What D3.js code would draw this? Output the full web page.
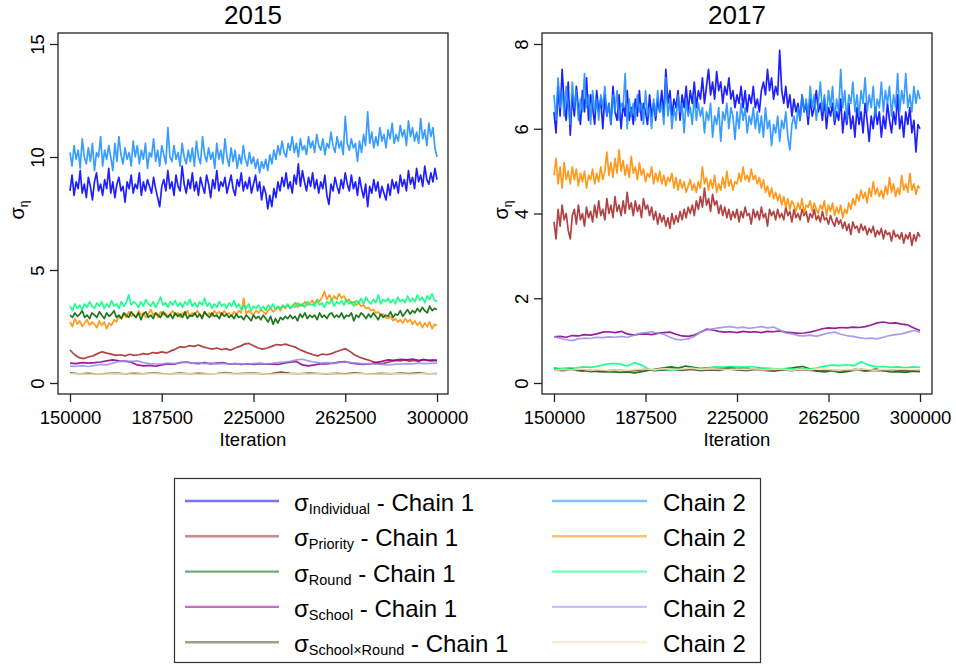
<!DOCTYPE html>
<html>
<head>
<meta charset="utf-8">
<script src="https://cdn.jsdelivr.net/npm/d3@7"></script>
<style>
  body { margin: 0; background: #fff; }
  svg { display: block; }
  text { font-family: "Liberation Sans", Arial, Helvetica, sans-serif; fill: #000; }
</style>
</head>
<body>
<svg id="chart" width="956" height="666"></svg>
<script>
// ---- Iterations kept after burn-in (thinned draws spread evenly over this range)
const ITER_FIRST = 150000;
const ITER_LAST = 300000;
const xTickValues = [150000, 187500, 225000, 262500, 300000];
const yTicks2015 = [0, 5, 10, 15];
const yTicks2017 = [0, 2, 4, 6, 8];
const panelTitles = ["2015", "2017"];

// ---- Variance components and chain colours
const paramNames = ["Individual", "Priority", "Round", "School", "School×Round"];
const chain1Colors = ["#0000ff", "#a52a2a", "#006400", "#8b008b", "#5a4a2c"];
const chain2Colors = ["#1e90ff", "#ff8c00", "#00ff7f", "#9b8fe8", "#f5deb3"];

// ---- 2015 draws
const individual2015c1 = [
  8.5, 9.2, 8.3, 8.9, 8.6, 9.4, 8.4, 8.8, 8.2, 9.1,
  8.7, 8.1, 8.9, 9.3, 8.5, 8.8, 8.3, 9.0, 8.6, 9.5,
  8.4, 8.9, 8.2, 8.8, 9.1, 8.5, 8.7, 8.0, 8.9, 8.6,
  9.2, 8.4, 8.8, 8.6, 9.3, 8.3, 8.9, 8.5, 9.0, 8.7,
  8.4, 9.1, 8.6, 8.2, 7.8, 8.7, 9.0, 8.5, 9.4, 8.6,
  8.9, 8.3, 9.2, 8.7, 8.5, 9.6, 8.8, 8.4, 9.0, 8.6,
  9.3, 8.5, 8.9, 8.3, 9.1, 8.7, 8.4, 9.2, 8.8, 8.2,
  9.0, 8.6, 9.4, 8.5, 8.9, 8.7, 9.1, 8.4, 8.8, 9.2,
  8.6, 8.3, 9.0, 8.7, 9.3, 8.5, 8.9, 8.6, 9.1, 8.4,
  8.8, 9.2, 8.5, 8.9, 8.1, 8.7, 8.4, 7.7, 8.3, 7.8,
  8.6, 8.2, 8.9, 8.5, 9.1, 8.7, 9.3, 8.6, 8.9, 8.4,
  9.2, 8.8, 9.7, 8.7, 9.4, 8.9, 8.5, 9.1, 8.7, 9.3,
  8.6, 9.0, 8.4, 8.9, 8.6, 9.2, 8.3, 7.9, 8.8, 8.5,
  9.1, 8.7, 8.4, 9.0, 8.6, 9.3, 8.8, 8.5, 9.2, 8.6,
  8.9, 8.3, 9.1, 8.6, 8.2, 8.8, 7.8, 8.7, 8.4, 9.0,
  8.5, 8.9, 8.2, 8.7, 8.4, 8.1, 8.8, 8.3, 9.0, 8.6,
  8.9, 8.4, 9.2, 8.7, 9.0, 8.5, 9.4, 8.8, 9.1, 8.6,
  9.5, 8.9, 9.2, 8.7, 9.6, 9.0, 8.8, 9.3, 8.9, 9.5,
  9.0
];
const individual2015c2 = [
  10.2, 9.6, 10.5, 9.9, 10.3, 9.5, 10.8, 10.0, 9.7, 10.4,
  9.8, 10.6, 9.4, 10.2, 10.0, 10.9, 9.6, 10.3, 9.9, 10.5,
  10.0, 9.4, 10.6, 9.8, 10.9, 10.1, 9.7, 10.4, 9.9, 10.2,
  9.6, 10.7, 10.0, 10.5, 9.7, 10.3, 9.9, 10.6, 9.5, 10.2,
  10.0, 10.8, 9.8, 10.3, 9.6, 10.5, 10.1, 9.7, 11.3, 10.0,
  9.8, 10.5, 9.9, 10.2, 9.6, 10.6, 10.0, 9.7, 10.3, 9.8,
  10.4, 9.6, 10.7, 10.0, 9.7, 10.9, 10.1, 9.8, 10.4, 9.9,
  10.2, 9.5, 10.6, 9.9, 10.3, 9.7, 10.8, 10.0, 9.6, 10.4,
  9.8, 10.3, 9.5, 10.1, 9.7, 10.5, 9.9, 9.6, 10.2, 9.7,
  10.0, 9.5, 9.9, 9.3, 9.8, 9.5, 9.9, 9.4, 10.1, 9.7,
  10.3, 9.9, 10.5, 10.1, 10.7, 10.2, 10.0, 10.6, 10.3, 10.9,
  10.2, 10.6, 10.0, 10.8, 10.3, 10.5, 10.1, 10.9, 10.4, 10.7,
  10.2, 11.0, 10.5, 10.3, 10.8, 10.1, 10.6, 10.4, 11.1, 10.5,
  10.2, 10.9, 10.4, 10.7, 10.1, 11.8, 10.6, 10.3, 10.8, 10.4,
  10.6, 9.8, 10.7, 10.2, 11.0, 10.5, 12.0, 10.6, 11.1, 10.4,
  10.9, 10.5, 11.3, 10.7, 11.0, 10.4, 11.2, 10.8, 11.5, 10.6,
  11.0, 10.7, 11.4, 10.9, 11.2, 10.5, 11.6, 10.9, 11.3, 10.7,
  11.1, 10.6, 11.7, 10.8, 11.2, 10.5, 11.5, 10.9, 11.3, 10.4,
  10.0
];
const priority2015c1 = [
  1.46, 1.25, 1.12, 1.08, 1.15, 1.20, 1.30, 1.38, 1.32, 1.28,
  1.22, 1.25, 1.20, 1.27, 1.22, 1.25, 1.30, 1.27, 1.35, 1.32,
  1.38, 1.33, 1.42, 1.50, 1.60, 1.58, 1.65, 1.62, 1.68, 1.60,
  1.55, 1.50, 1.55, 1.48, 1.52, 1.45, 1.55, 1.62, 1.72, 1.75,
  1.65, 1.55, 1.50, 1.55, 1.62, 1.70, 1.68, 1.72, 1.65, 1.60,
  1.48, 1.40, 1.32, 1.25, 1.20, 1.28, 1.25, 1.30, 1.38, 1.45,
  1.52, 1.40, 1.25, 1.15, 1.08, 1.02, 0.95, 0.88, 0.85, 0.90,
  0.95, 1.00, 0.98, 1.02, 0.97, 1.00, 0.95, 1.05, 1.00, 1.03, 1.00
];
const priority2015c2 = [
  2.7, 2.5, 2.85, 2.6, 2.75, 2.5, 2.65, 2.8, 2.55, 2.7,
  2.6, 2.45, 2.75, 2.55, 2.7, 2.4, 2.65, 2.55, 2.8, 2.7,
  2.95, 2.85, 3.05, 2.9, 3.15, 2.95, 3.05, 2.9, 3.2, 3.0,
  3.1, 2.9, 3.05, 3.25, 3.0, 3.1, 2.9, 3.15, 3.0, 3.1,
  2.95, 3.05, 3.2, 3.0, 3.1, 2.9, 3.1, 3.0, 3.2, 2.95,
  3.1, 3.0, 3.2, 3.05, 2.95, 3.15, 3.0, 3.1, 2.95, 3.2,
  3.05, 3.15, 3.0, 3.2, 3.05, 3.1, 2.95, 3.15, 3.05, 3.2,
  3.1, 3.75, 3.05, 3.2, 3.1, 3.0, 3.2, 3.1, 3.25, 3.15,
  3.05, 3.2, 3.3, 3.15, 3.25, 3.35, 3.2, 3.4, 3.3, 3.45,
  3.3, 3.4, 3.55, 3.35, 3.5, 3.4, 3.6, 3.45, 3.55, 3.65,
  3.5, 3.7, 3.6, 3.8, 4.05, 3.7, 3.9, 3.65, 3.85, 3.7,
  3.95, 3.75, 3.85, 3.6, 3.7, 3.5, 3.6, 3.45, 3.55, 3.4,
  3.45, 3.3, 3.35, 3.2, 3.25, 3.1, 3.15, 3.0, 3.05, 2.9,
  2.85, 2.95, 2.75, 2.85, 2.7, 2.8, 2.65, 2.85, 2.7, 2.8,
  2.6, 2.75, 2.55, 2.7, 2.45, 2.65, 2.5, 2.7, 2.4, 2.6,
  2.55
];
const round2015c1 = [
  3.0, 2.9, 3.1, 2.95, 3.05, 3.2, 2.9, 3.0, 2.85, 3.1,
  3.0, 2.9, 3.15, 3.0, 2.85, 3.1, 2.95, 3.05, 3.2, 2.9,
  3.0, 2.85, 3.1, 3.0, 2.9, 3.15, 3.0, 2.9, 3.1, 2.8,
  3.05, 3.15, 2.9, 3.0, 2.85, 3.1, 3.0, 2.9, 3.15, 3.0,
  2.9, 3.05, 2.85, 3.1, 2.95, 3.05, 2.9, 3.15, 2.85, 3.0,
  2.95, 3.1, 2.9, 3.05, 2.85, 3.15, 3.0, 2.9, 3.1, 2.95,
  3.0, 2.85, 3.1, 2.95, 3.05, 2.9, 3.0, 2.85, 3.05, 2.9,
  2.95, 2.8, 3.0, 2.9, 2.75, 3.0, 2.85, 2.95, 2.8, 3.0,
  2.85, 2.7, 2.95, 2.6, 2.85, 2.65, 2.9, 2.8, 2.95, 2.85,
  3.0, 2.85, 2.95, 2.75, 3.05, 2.9, 3.1, 2.85, 3.0, 2.9,
  3.0, 2.8, 3.1, 2.9, 3.0, 2.85, 3.05, 3.1, 2.9, 3.0,
  2.9, 3.1, 2.85, 3.0, 2.95, 3.1, 2.75, 3.0, 2.9, 3.1,
  3.0, 2.85, 3.05, 2.9, 3.1, 2.95, 2.8, 3.05, 2.9, 3.0,
  2.95, 3.15, 2.9, 3.05, 3.0, 3.2, 2.95, 3.1, 3.25, 3.05,
  3.2, 3.1, 3.3, 3.15, 3.35, 3.2, 3.1, 3.4, 3.2, 3.3,
  3.25
];
const round2015c2 = [
  3.4, 3.2, 3.5, 3.3, 3.45, 3.25, 3.5, 3.35, 3.6, 3.4,
  3.3, 3.55, 3.4, 3.6, 3.3, 3.5, 3.35, 3.65, 3.4, 3.5,
  3.3, 3.6, 3.4, 3.55, 3.9, 3.45, 3.6, 3.5, 3.35, 3.6,
  3.4, 3.7, 3.5, 3.4, 3.6, 3.35, 3.55, 3.8, 3.45, 3.55,
  3.35, 3.6, 3.45, 3.65, 3.4, 3.55, 3.35, 3.6, 3.45, 3.7,
  3.4, 3.55, 3.35, 3.6, 3.45, 3.75, 3.4, 3.55, 3.3, 3.5,
  3.35, 3.6, 3.4, 3.5, 3.3, 3.55, 3.4, 3.65, 3.35, 3.5,
  3.25, 3.45, 3.3, 3.5, 3.2, 3.4, 3.3, 3.45, 3.25, 3.4,
  3.2, 3.45, 3.3, 3.5, 3.25, 3.4, 3.3, 3.45, 3.35, 3.5,
  3.3, 3.45, 3.35, 3.55, 3.4, 3.5, 3.35, 3.6, 3.45, 3.5,
  3.4, 3.65, 3.45, 3.55, 3.35, 3.6, 3.5, 3.7, 3.4, 3.6,
  3.5, 3.65, 3.45, 3.7, 3.5, 3.6, 3.4, 3.65, 3.55, 3.75,
  3.5, 3.8, 3.6, 3.5, 3.7, 3.55, 3.9, 3.5, 3.7, 3.6,
  3.75, 3.55, 3.7, 3.5, 3.8, 3.6, 3.7, 3.55, 3.85, 3.6,
  3.75, 3.6, 3.9, 3.65, 3.8, 3.55, 3.85, 3.7, 3.95, 3.65,
  3.6
];
const school2015c1 = [
  0.88, 0.86, 0.90, 0.88, 0.90, 0.93, 0.98, 1.02, 0.98, 0.97,
  0.92, 0.80, 0.76, 0.78, 0.74, 0.80, 0.85, 0.83, 0.90, 0.93,
  0.88, 0.86, 0.90, 0.85, 0.88, 0.90, 0.84, 0.86, 0.82, 0.85,
  0.82, 0.86, 0.83, 0.85, 0.82, 0.88, 0.92, 0.95, 0.80, 0.76,
  0.80, 0.86, 0.84, 0.88, 0.92, 0.95, 0.88, 0.85, 0.82, 0.84,
  0.90, 0.96, 1.02, 1.00, 1.05, 1.02, 1.06, 1.00, 1.03, 0.98, 1.00
];
const school2015c2 = [
  0.75, 0.74, 0.77, 0.73, 0.78, 0.82, 0.80, 0.88, 0.95, 0.97,
  0.96, 0.98, 0.90, 0.86, 0.84, 0.85, 0.88, 0.86, 0.90, 0.92,
  0.88, 0.90, 0.86, 0.88, 0.85, 0.87, 0.84, 0.86, 0.85, 0.83,
  0.86, 0.88, 0.85, 0.87, 0.90, 0.92, 0.96, 1.02, 1.05, 0.98,
  0.92, 0.88, 0.90, 0.87, 0.90, 0.93, 0.90, 0.88, 0.85, 0.86,
  0.83, 0.82, 0.80, 0.82, 0.84, 0.86, 0.85, 0.88, 0.86, 0.87, 0.88
];
const schoolRound2015c1 = [
  0.45, 0.41, 0.43, 0.39, 0.42, 0.44, 0.40, 0.43, 0.41, 0.45,
  0.42, 0.40, 0.44, 0.41, 0.43, 0.40, 0.42, 0.46, 0.41, 0.43,
  0.44, 0.40, 0.42, 0.48, 0.43, 0.41, 0.44, 0.42, 0.40, 0.43,
  0.41, 0.45, 0.42, 0.40, 0.43, 0.41, 0.44, 0.42, 0.45, 0.41, 0.42
];
const schoolRound2015c2 = [
  0.40, 0.42, 0.38, 0.41, 0.39, 0.42, 0.40, 0.38, 0.41, 0.43,
  0.39, 0.41, 0.40, 0.42, 0.38, 0.41, 0.40, 0.43, 0.39, 0.41,
  0.42, 0.40, 0.38, 0.41, 0.40, 0.42, 0.39, 0.41, 0.43, 0.40,
  0.38, 0.41, 0.42, 0.39, 0.40, 0.42, 0.41, 0.38, 0.40, 0.42, 0.39
];

// ---- 2017 draws
const individual2017c1 = [
  6.4, 5.9, 7.0, 6.3, 7.4, 6.6, 6.2, 7.1, 5.85, 6.8,
  6.3, 7.0, 6.5, 6.1, 6.9, 6.4, 7.2, 6.2, 6.8, 6.5,
  6.1, 6.9, 6.4, 6.7, 6.0, 6.8, 6.3, 6.6, 6.1, 7.0,
  6.4, 6.2, 6.8, 6.0, 6.6, 6.3, 6.9, 6.2, 6.5, 6.1,
  6.7, 6.3, 6.9, 6.2, 6.6, 6.4, 6.1, 6.8, 6.3, 6.6,
  6.2, 6.7, 6.4, 6.9, 6.3, 7.4, 6.6, 6.9, 6.3, 6.7,
  6.5, 6.9, 6.2, 6.8, 6.5, 7.0, 6.4, 6.9, 6.6, 7.1,
  6.5, 6.9, 6.7, 7.2, 6.6, 7.0, 7.4, 6.8, 7.1, 6.7,
  7.35, 6.9, 7.1, 6.6, 7.0, 6.8, 7.2, 6.7, 6.9, 6.5,
  6.8, 6.6, 7.0, 6.5, 6.9, 6.4, 6.8, 6.6, 7.0, 6.5,
  6.7, 6.4, 6.9, 7.1, 6.8, 7.4, 6.9, 7.2, 6.7, 7.0,
  6.8, 7.85, 6.9, 6.6, 7.0, 6.5, 6.8, 6.3, 6.7, 6.4,
  6.6, 6.2, 6.8, 6.4, 6.6, 6.1, 6.7, 6.3, 6.5, 6.9,
  6.4, 6.6, 6.2, 6.7, 6.0, 6.5, 6.3, 6.6, 6.1, 6.4,
  6.2, 6.7, 5.9, 6.4, 6.1, 6.6, 6.0, 6.3, 5.8, 6.5,
  6.1, 6.4, 5.9, 6.6, 6.2, 5.7, 6.3, 6.0, 6.5, 6.1,
  6.4, 5.8, 6.3, 6.0, 6.6, 6.2, 5.9, 6.4, 6.1, 6.8,
  6.0, 6.3, 5.8, 6.4, 6.1, 6.5, 5.9, 6.2, 5.45, 6.1,
  6.0
];
const individual2017c2 = [
  6.8, 6.2, 7.2, 6.5, 6.9, 6.3, 7.0, 6.6, 6.1, 7.1,
  6.5, 6.9, 6.2, 6.7, 6.4, 7.3, 6.5, 6.8, 6.1, 6.9,
  6.4, 6.7, 6.2, 6.8, 6.5, 7.0, 6.3, 6.6, 6.1, 6.8,
  6.4, 6.9, 6.2, 6.6, 6.5, 7.3, 6.0, 6.7, 6.3, 6.6,
  6.2, 6.8, 6.4, 6.6, 6.1, 6.9, 6.3, 6.5, 6.0, 6.7,
  6.3, 6.9, 6.4, 6.6, 6.1, 7.2, 6.3, 6.7, 6.0, 6.5,
  6.2, 6.8, 6.4, 6.6, 5.9, 6.7, 6.3, 6.5, 6.1, 6.8,
  6.2, 6.6, 6.3, 6.5, 5.9, 6.4, 6.2, 6.6, 5.8, 6.3,
  6.1, 6.5, 5.7, 6.4, 6.2, 6.6, 6.0, 6.5, 6.3, 5.75,
  6.4, 6.0, 6.6, 6.2, 6.5, 5.9, 6.3, 6.1, 6.5, 6.0,
  6.4, 5.9, 6.3, 5.8, 6.5, 6.0, 6.2, 5.6, 6.1, 5.9,
  6.3, 5.7, 6.2, 6.0, 6.4, 5.8, 5.5, 6.1, 6.3, 6.0,
  6.5, 6.2, 6.8, 6.4, 6.7, 6.3, 7.0, 6.5, 6.8, 6.2,
  6.6, 7.1, 6.4, 6.8, 6.3, 6.9, 6.5, 7.0, 6.2, 6.7,
  6.4, 7.4, 6.5, 6.9, 6.2, 6.8, 6.6, 7.1, 6.4, 6.8,
  6.3, 6.9, 6.6, 7.2, 6.4, 6.8, 6.5, 7.0, 6.3, 6.7,
  6.5, 7.1, 6.4, 6.9, 6.6, 7.0, 6.3, 6.8, 6.5, 7.3,
  6.4, 6.9, 6.6, 7.3, 6.5, 6.8, 6.4, 7.0, 6.6, 6.9,
  6.7
];
const priority2017c1 = [
  3.8, 3.4, 4.1, 3.7, 4.2, 3.85, 4.0, 3.6, 3.4, 3.95,
  4.1, 3.75, 4.2, 3.85, 4.0, 3.7, 4.15, 3.9, 4.05, 3.8,
  4.2, 3.9, 4.3, 3.95, 4.1, 3.85, 4.35, 4.0, 4.2, 3.9,
  4.4, 4.05, 4.2, 3.95, 4.3, 4.0, 4.5, 4.1, 4.25, 3.95,
  4.3, 4.05, 4.2, 3.9, 4.35, 4.1, 4.2, 3.95, 4.15, 3.85,
  4.05, 3.75, 4.0, 3.8, 3.95, 3.7, 3.9, 3.65, 4.0, 3.75,
  3.95, 3.8, 4.05, 3.85, 4.1, 3.9, 4.15, 4.0, 4.2, 3.95,
  4.3, 4.1, 4.4, 4.15, 4.6, 4.2, 4.35, 4.05, 4.45, 4.2,
  4.3, 4.0, 4.2, 3.95, 4.15, 3.9, 4.1, 3.85, 4.05, 3.9,
  4.1, 3.8, 4.05, 3.9, 4.15, 3.95, 4.0, 3.75, 4.1, 3.9,
  4.05, 3.85, 4.15, 3.9, 4.0, 3.7, 4.1, 3.95, 4.05, 3.85,
  4.1, 3.9, 4.0, 3.85, 4.15, 3.95, 4.05, 3.8, 4.1, 3.9,
  4.0, 3.85, 4.1, 3.95, 4.05, 3.8, 4.0, 3.9, 4.1, 3.85,
  3.95, 3.8, 4.05, 3.85, 3.9, 3.75, 3.95, 3.8, 3.7, 3.9,
  3.75, 3.85, 3.65, 3.8, 3.6, 3.75, 3.5, 3.8, 3.65, 3.7,
  3.55, 3.75, 3.6, 3.7, 3.5, 3.65, 3.55, 3.7, 3.45, 3.6,
  3.5, 3.65, 3.4, 3.6, 3.5, 3.55, 3.35, 3.6, 3.45, 3.5,
  3.4, 3.55, 3.3, 3.5, 3.4, 3.55, 3.25, 3.5, 3.35, 3.55,
  3.45
];
const priority2017c2 = [
  4.9, 5.3, 4.7, 5.1, 4.6, 5.2, 4.8, 5.0, 4.7, 5.1,
  4.8, 5.05, 4.65, 4.95, 4.75, 5.0, 4.6, 4.9, 4.8, 5.05,
  4.7, 4.95, 4.75, 5.1, 4.8, 5.0, 5.45, 4.9, 5.2, 4.85,
  5.3, 4.95, 5.5, 5.0, 5.25, 4.9, 5.15, 4.85, 5.35, 4.95,
  5.1, 4.8, 5.2, 4.9, 5.05, 4.75, 4.95, 4.85, 5.1, 4.7,
  4.95, 4.75, 5.0, 4.7, 4.9, 4.65, 4.85, 4.75, 4.95, 4.6,
  4.85, 4.55, 4.8, 4.6, 4.75, 4.5, 4.65, 4.8, 4.55, 4.7,
  4.5, 4.75, 4.6, 5.1, 4.7, 4.85, 4.55, 4.8, 4.6, 4.9,
  4.5, 4.7, 4.55, 4.85, 4.6, 5.0, 4.65, 4.8, 4.55, 4.75,
  4.7, 4.95, 4.75, 5.1, 4.8, 4.9, 4.75, 5.05, 4.8, 4.9,
  4.7, 4.85, 4.6, 4.8, 4.5, 4.65, 4.4, 4.6, 4.35, 4.5,
  4.3, 4.45, 4.2, 4.4, 4.15, 4.35, 4.1, 4.3, 4.2, 4.05,
  4.25, 4.1, 4.35, 4.0, 4.2, 4.15, 4.3, 4.05, 4.25, 4.1,
  4.0, 4.2, 4.1, 4.3, 3.95, 4.2, 4.05, 4.25, 3.95, 4.15,
  4.0, 4.2, 3.9, 4.1, 4.0, 4.25, 4.1, 4.35, 4.2, 4.45,
  4.3, 4.55, 4.35, 4.5, 4.25, 4.6, 4.4, 4.75, 4.45, 4.6,
  4.4, 4.55, 4.35, 4.65, 4.45, 4.85, 4.5, 4.7, 4.4, 4.6,
  4.45, 4.9, 4.55, 4.7, 4.5, 4.95, 4.55, 4.7, 4.45, 4.65,
  4.6
];
const round2017c1 = [
  0.35, 0.32, 0.34, 0.30, 0.31, 0.27, 0.28, 0.26, 0.27, 0.25,
  0.26, 0.24, 0.27, 0.30, 0.33, 0.36, 0.38, 0.35, 0.40, 0.37,
  0.34, 0.36, 0.33, 0.35, 0.37, 0.34, 0.36, 0.33, 0.35, 0.31,
  0.33, 0.30, 0.34, 0.37, 0.39, 0.33, 0.28, 0.26, 0.29, 0.25,
  0.27, 0.30, 0.32, 0.30, 0.33, 0.29, 0.26, 0.27, 0.25, 0.28, 0.27
];
const round2017c2 = [
  0.35, 0.34, 0.36, 0.35, 0.38, 0.37, 0.40, 0.44, 0.46, 0.45,
  0.40, 0.48, 0.42, 0.32, 0.30, 0.31, 0.29, 0.31, 0.33, 0.32,
  0.35, 0.36, 0.38, 0.37, 0.39, 0.38, 0.37, 0.39, 0.36, 0.35,
  0.34, 0.33, 0.35, 0.32, 0.34, 0.33, 0.36, 0.40, 0.42, 0.41,
  0.43, 0.41, 0.50, 0.42, 0.38, 0.39, 0.37, 0.38, 0.36, 0.38, 0.37
];
const school2017c1 = [
  1.09, 1.10, 1.08, 1.12, 1.11, 1.14, 1.13, 1.16, 1.20, 1.21,
  1.19, 1.22, 1.16, 1.13, 1.15, 1.16, 1.14, 1.17, 1.19, 1.20,
  1.15, 1.11, 1.10, 1.13, 1.20, 1.27, 1.25, 1.22, 1.20, 1.21,
  1.19, 1.22, 1.20, 1.21, 1.19, 1.22, 1.21, 1.23, 1.20, 1.19,
  1.17, 1.18, 1.20, 1.24, 1.28, 1.30, 1.29, 1.31, 1.30, 1.32,
  1.31, 1.33, 1.37, 1.42, 1.44, 1.41, 1.42, 1.39, 1.37, 1.30, 1.24
];
const school2017c2 = [
  1.09, 1.06, 1.02, 1.00, 1.04, 1.06, 1.05, 1.08, 1.07, 1.09,
  1.08, 1.10, 1.08, 1.12, 1.17, 1.19, 1.21, 1.18, 1.15, 1.08,
  1.03, 1.02, 1.04, 1.10, 1.20, 1.25, 1.28, 1.30, 1.32, 1.33,
  1.30, 1.32, 1.29, 1.31, 1.33, 1.30, 1.32, 1.25, 1.18, 1.16,
  1.12, 1.11, 1.13, 1.10, 1.14, 1.18, 1.20, 1.15, 1.12, 1.10,
  1.07, 1.05, 1.06, 1.04, 1.08, 1.12, 1.14, 1.16, 1.20, 1.24, 1.20
];
const schoolRound2017c1 = [
  0.31, 0.29, 0.32, 0.28, 0.30, 0.27, 0.29, 0.31, 0.28, 0.30,
  0.32, 0.29, 0.31, 0.33, 0.30, 0.32, 0.29, 0.31, 0.30, 0.33,
  0.31, 0.29, 0.32, 0.30, 0.28, 0.31, 0.29, 0.32, 0.30, 0.28,
  0.31, 0.29, 0.30, 0.32, 0.28, 0.30, 0.29, 0.31, 0.30, 0.28, 0.30
];
const schoolRound2017c2 = [
  0.30, 0.32, 0.31, 0.33, 0.30, 0.32, 0.29, 0.31, 0.30, 0.32,
  0.33, 0.31, 0.34, 0.32, 0.33, 0.35, 0.32, 0.34, 0.33, 0.31,
  0.33, 0.32, 0.34, 0.31, 0.33, 0.32, 0.30, 0.33, 0.31, 0.34,
  0.32, 0.30, 0.32, 0.31, 0.33, 0.30, 0.32, 0.31, 0.33, 0.32, 0.31
];

// Traces grouped per panel: [chain 1, chain 2] for each component, in paramNames order
const traces2015 = [
  [individual2015c1, individual2015c2],
  [priority2015c1, priority2015c2],
  [round2015c1, round2015c2],
  [school2015c1, school2015c2],
  [schoolRound2015c1, schoolRound2015c2]
];
const traces2017 = [
  [individual2017c1, individual2017c2],
  [priority2017c1, priority2017c2],
  [round2017c1, round2017c2],
  [school2017c1, school2017c2],
  [schoolRound2017c1, schoolRound2017c2]
];

// ---- Layout
const svg = d3.select("#chart");
const frameTop = 33, frameBottom = 394;
const FONT = 18.5;
const axisColor = "#222";

const panels = [
  { title: panelTitles[0], frameLeft: 58, frameRight: 448, xRange: [70, 437],
    yTicks: yTicks2015, yRange: [383, 44], traces: traces2015 },
  { title: panelTitles[1], frameLeft: 542, frameRight: 932, xRange: [554, 920],
    yTicks: yTicks2017, yRange: [383, 44], traces: traces2017 }
];

// draw index -> iteration number for a thinned chain of n draws
function iterationAt(i, n) {
  return ITER_FIRST + i * (ITER_LAST - ITER_FIRST) / (n - 1);
}

panels.forEach(p => {
  const x = d3.scaleLinear().domain([ITER_FIRST, ITER_LAST]).range(p.xRange);
  const y = d3.scaleLinear()
    .domain([p.yTicks[0], p.yTicks[p.yTicks.length - 1]])
    .range(p.yRange);
  const g = svg.append("g");

  // trace lines: chain 1 then chain 2 for each component
  p.traces.forEach((pair, k) => {
    pair.forEach((vals, c) => {
      const line = d3.line()
        .x((d, i) => x(iterationAt(i, vals.length)))
        .y(d => y(d));
      g.append("path")
        .datum(vals)
        .attr("d", line)
        .attr("fill", "none")
        .attr("stroke", c === 0 ? chain1Colors[k] : chain2Colors[k])
        .attr("stroke-opacity", 0.88)
        .attr("stroke-width", 1.7)
        .attr("stroke-linejoin", "round");
    });
  });

  // frame
  g.append("rect")
    .attr("x", p.frameLeft).attr("y", frameTop)
    .attr("width", p.frameRight - p.frameLeft)
    .attr("height", frameBottom - frameTop)
    .attr("fill", "none").attr("stroke", axisColor).attr("stroke-width", 1.3);

  // x axis
  const xAxis = g.append("g")
    .attr("transform", `translate(0,${frameBottom})`)
    .call(d3.axisBottom(x).tickValues(xTickValues).tickFormat(d3.format("d"))
      .tickSize(8).tickPadding(9));
  xAxis.select(".domain").remove();
  xAxis.selectAll("line").attr("stroke", axisColor).attr("stroke-width", 1.3);
  xAxis.selectAll("text").attr("font-size", FONT)
    .attr("font-family", "'Liberation Sans', Arial, sans-serif").attr("fill", "#000");

  // y axis with labels turned to read upwards
  const yAxis = g.append("g")
    .attr("transform", `translate(${p.frameLeft},0)`)
    .call(d3.axisLeft(y).tickValues(p.yTicks).tickFormat(d3.format("d")).tickSize(8));
  yAxis.select(".domain").remove();
  yAxis.selectAll("line").attr("stroke", axisColor).attr("stroke-width", 1.3);
  yAxis.selectAll("text")
    .attr("x", null).attr("dy", null)
    .attr("text-anchor", "middle")
    .attr("transform", "translate(-14,0) rotate(-90)")
    .attr("font-size", FONT)
    .attr("font-family", "'Liberation Sans', Arial, sans-serif").attr("fill", "#000");

  const cx = (p.frameLeft + p.frameRight) / 2;

  // panel title
  svg.append("text")
    .attr("x", cx).attr("y", 24)
    .attr("text-anchor", "middle")
    .attr("font-size", 26)
    .text(p.title);

  // x title
  svg.append("text")
    .attr("x", cx).attr("y", 445.5)
    .attr("text-anchor", "middle")
    .attr("font-size", FONT)
    .text("Iteration");

  // y title: sigma with eta subscript
  const yt = svg.append("text")
    .attr("transform", `translate(${p.frameLeft - 34},210) rotate(-90)`)
    .attr("text-anchor", "middle")
    .attr("font-size", 20);
  yt.append("tspan").text("σ");
  yt.append("tspan").attr("font-size", 12).attr("dy", 4).text("η");
});

// ---- Legend
const legend = svg.append("g");
legend.append("rect")
  .attr("x", 174.5).attr("y", 478.5)
  .attr("width", 586).attr("height", 184)
  .attr("fill", "#fff").attr("stroke", "#333").attr("stroke-width", 1.2);

const rowY = d3.range(paramNames.length).map(k => 501 + k * 35.3);

paramNames.forEach((name, k) => {
  const yy = rowY[k];
  legend.append("line")
    .attr("x1", 185).attr("x2", 279).attr("y1", yy).attr("y2", yy)
    .attr("stroke", chain1Colors[k]).attr("stroke-opacity", 0.55).attr("stroke-width", 2.4);
  const t = legend.append("text")
    .attr("x", 294).attr("y", yy + 10)
    .attr("font-size", 24);
  t.append("tspan").text("σ");
  t.append("tspan").attr("font-size", 14.5).attr("dy", 3).text(name);
  t.append("tspan").attr("dy", -3).text(" - Chain 1");

  legend.append("line")
    .attr("x1", 552).attr("x2", 647).attr("y1", yy).attr("y2", yy)
    .attr("stroke", chain2Colors[k]).attr("stroke-opacity", 0.55).attr("stroke-width", 2.4);
  legend.append("text")
    .attr("x", 663).attr("y", yy + 10)
    .attr("font-size", 24)
    .text("Chain 2");
});
</script>
</body>
</html>
